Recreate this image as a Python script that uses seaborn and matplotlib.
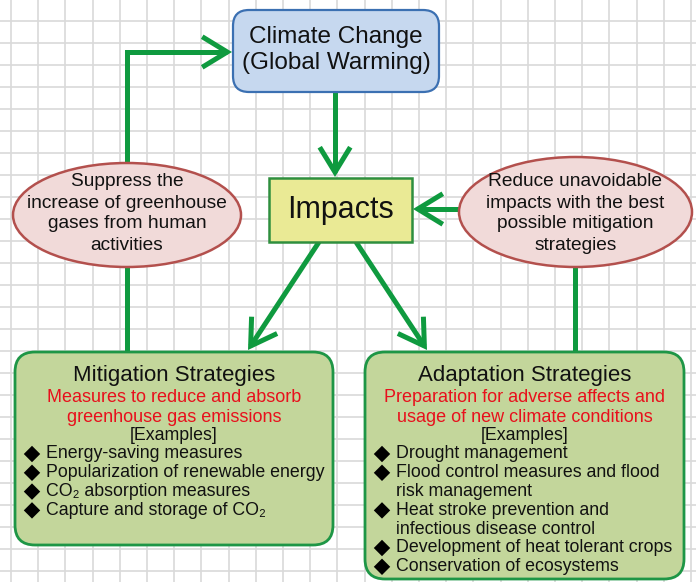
import numpy as np
import pandas as pd
import matplotlib
matplotlib.use("Agg")
import matplotlib.pyplot as plt
from matplotlib.patches import FancyBboxPatch, Ellipse, FancyArrowPatch, ArrowStyle
from matplotlib.path import Path
import seaborn as sns

# ---------------- content ----------------
top_box_lines = ["Climate Change", "(Global Warming)"]
center_label = "Impacts"
left_oval_lines = ["Suppress the", "increase of greenhouse", "gases from human", "activities"]
right_oval_lines = ["Reduce unavoidable", "impacts with the best", "possible mitigation", "strategies"]

mit_title = "Mitigation Strategies"
mit_sub = ["Measures to reduce and absorb", "greenhouse gas emissions"]
mit_items = [["Energy-saving measures"],
             ["Popularization of renewable energy"],
             ["CO\u2082 absorption measures"],
             ["Capture and storage of CO\u2082"]]

ada_title = "Adaptation Strategies"
ada_sub = ["Preparation for adverse affects and", "usage of new climate conditions"]
ada_items = [["Drought management"],
             ["Flood control measures and flood", "risk management"],
             ["Heat stroke prevention and", "infectious disease control"],
             ["Development of heat tolerant crops"],
             ["Conservation of ecosystems"]]
examples_label = "[Examples]"

# ---------------- style ----------------
sns.set_theme(style="white")
plt.rcParams["font.family"] = ["Liberation Sans", "DejaVu Sans"]

W, H = 696, 582
fig = plt.figure(figsize=(W / 100, H / 100), dpi=100)
ax = fig.add_axes([0, 0, 1, 1])
ax.set_xlim(0, W)
ax.set_ylim(H, 0)
ax.axis("off")
fig.patch.set_facecolor("white")

GREEN = "#0f9a3f"
GRID = "#d9d9d9"
INK = "#111111"

# background grid
for gx in np.arange(11, W, 27.2):
    ax.axvline(gx, color=GRID, lw=1.2, zorder=0)
for gy in np.arange(20.5, H, 22.0):
    ax.axhline(gy, color=GRID, lw=1.2, zorder=0)

# ---------------- connectors ----------------
def connector(points, arrow=True):
    verts = list(points)
    codes = [Path.MOVETO] + [Path.LINETO] * (len(verts) - 1)
    style = ArrowStyle("->", head_length=18, head_width=11) if arrow else ArrowStyle("-")
    p = FancyArrowPatch(path=Path(verts, codes), arrowstyle=style, mutation_scale=1,
                        color=GREEN, lw=3.6, joinstyle="miter", capstyle="butt", zorder=1)
    ax.add_patch(p)

connector([(127, 165), (127, 52), (232, 52)])
connector([(335, 92), (335, 177)])
connector([(460, 209), (413, 209)])
connector([(319, 242), (248, 350)])
connector([(356, 242), (427, 350)])
connector([(127, 265), (127, 353)], arrow=False)
connector([(575, 265), (575, 353)], arrow=False)

# ---------------- boxes ----------------
def rbox(x0, y0, x1, y1, fc, ec, lw, r):
    ax.add_patch(FancyBboxPatch((x0, y0), x1 - x0, y1 - y0,
                                boxstyle=f"round,pad=0,rounding_size={r}",
                                fc=fc, ec=ec, lw=lw, zorder=3))

rbox(233, 10, 439, 92, "#c6d8ef", "#3b70b2", 1.6, 16)
for txt, y in zip(top_box_lines, [37, 63]):
    ax.text(336, y, txt, fontsize=17.5, ha="center", va="center", color=INK, zorder=5)

ax.add_patch(plt.Rectangle((269, 178), 143, 64, fc="#eaea95", ec="#2f8f3e", lw=1.8, zorder=3))
ax.text(340.5, 210, center_label, fontsize=22, ha="center", va="center", color=INK, zorder=5)

ax.add_patch(Ellipse((127, 215), 228, 104, fc="#f1dad9", ec="#b3504d", lw=1.8, zorder=3))
for txt, y in zip(left_oval_lines, [182, 203, 224, 245]):
    ax.text(127, y, txt, fontsize=13.8, ha="center", va="center", color=INK, zorder=5)

ax.add_patch(Ellipse((575.5, 212), 233, 110, fc="#f1dad9", ec="#b3504d", lw=1.8, zorder=3))
for txt, y in zip(right_oval_lines, [182, 203, 224, 245]):
    ax.text(575.5, y, txt, fontsize=13.8, ha="center", va="center", color=INK, zorder=5)

def strategy(x0, y0, x1, y1, title, sub, items, dx, tx):
    rbox(x0, y0, x1, y1, "#c3d69b", "#1e9646", 2.0, 20)
    cx = (x0 + x1) / 2
    ax.text(cx, 376, title, fontsize=16, ha="center", va="center", color=INK, zorder=5)
    for txt, y in zip(sub, [398, 417]):
        ax.text(cx, y, txt, fontsize=13, ha="center", va="center", color="#e8101c", zorder=5)
    ax.text(cx, 436, examples_label, fontsize=12.8, ha="center", va="center", color=INK, zorder=5)
    y = 454
    rows = []
    for item in items:
        rows.append({"x": dx, "y": y})
        for line in item:
            ax.text(tx, y, line, fontsize=12.8, ha="left", va="center", color=INK, zorder=5)
            y += 18.8
    df = pd.DataFrame(rows)
    sns.scatterplot(data=df, x="x", y="y", marker="D", s=70, color="black",
                    edgecolor="none", ax=ax, zorder=6, legend=False)

strategy(15, 352, 333, 545, mit_title, mit_sub, mit_items, 32, 46)
strategy(365, 352, 684, 579, ada_title, ada_sub, ada_items, 382, 396)

ax.set_xlim(0, W)
ax.set_ylim(H, 0)
ax.axis("off")
fig.savefig("out.png", dpi=100)
